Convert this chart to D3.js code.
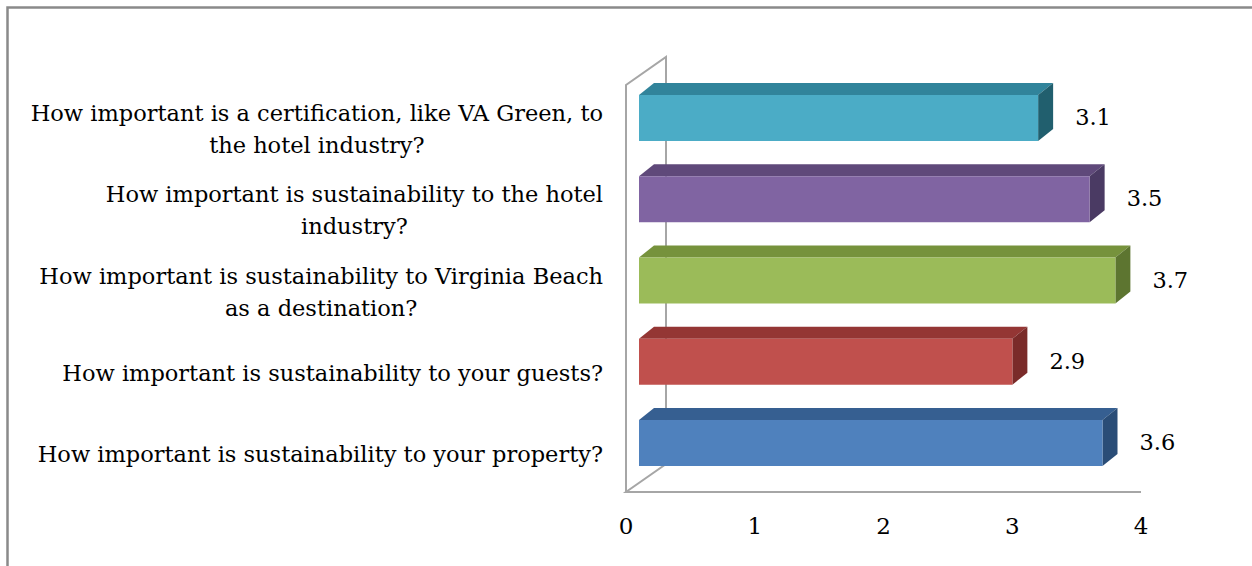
<!DOCTYPE html>
<html>
<head>
<meta http-equiv="Content-Type" content="text/html; charset=utf-8" />
<title>Sustainability importance</title>
<style>
body {
	margin:0;
	padding:0;
	background-color: #fff;
}
text {
	font-family: "DejaVu Serif", serif;
	fill: #000;
}
</style>
</head>
<body>
<svg></svg>
<script src="https://cdn.jsdelivr.net/npm/d3@7/dist/d3.min.js"></script>
<script>

/****************
Data
*****************/
var questions = [
	["How important is a certification, like VA Green, to", "the hotel industry?"],
	["How important is sustainability to the hotel", "industry?"],
	["How important is sustainability to Virginia Beach", "as a destination?"],
	["How important is sustainability to your guests?"],
	["How important is sustainability to your property?"]
];
var scores = [3.1, 3.5, 3.7, 2.9, 3.6];
var ticks = [0, 1, 2, 3, 4];

// front / top / side colours of each bar
var fronts = ["#4bacc6", "#8064a2", "#9bbb59", "#c0504d", "#4f81bd"];
var tops   = ["#31849b", "#5f497a", "#76923c", "#943634", "#365f91"];
var sides  = ["#215f6e", "#4a3a63", "#5d7530", "#7a2b29", "#2a4d77"];

var w = 1252;
var h = 566;

var svg = d3.select("svg")
	.attr("width", w)
	.attr("height", h);

//outer frame (goes past right / bottom edges)
svg.append("rect")
	.attr("x", 7.5).attr("y", 7.5)
	.attr("width", w).attr("height", h)
	.style("fill", "none")
	.style("stroke", "#8a8a8a")
	.style("stroke-width", 2.5);

/****************
Scales
*****************/
var ids = d3.range(questions.length);
var x = d3.scaleLinear().domain([0, 4]).range([626, 1141]);
var y = d3.scaleBand().domain(ids).range([95, 466]).paddingInner(0.434).paddingOuter(0);

//3d offsets
var wall = {dx: 40, dy: -28};  // floor depth
var bar = {dx: 13, dy: 0};     // bar front shift from floor front
var depth = {dx: 15, dy: -12}; // bar thickness

var floorY = 492;
var wallTop = 85;

/****************
Walls
*****************/
var line_color = "#a6a6a6";
var walls = svg.append("g")
	.style("fill", "none")
	.style("stroke", line_color)
	.style("stroke-width", 2);

walls.append("path")
	.attr("d", "M" + x(0) + "," + floorY + "V" + wallTop
		+ "l" + wall.dx + "," + wall.dy
		+ "V" + (floorY + wall.dy)
		+ "L" + x(0) + "," + floorY
		+ "H" + x(4));

/****************
Bars
*****************/
var bars = svg.selectAll(".bar")
	.data(ids)
	.enter()
	.append("g")
	.classed("bar", true);

function x0() { return x(0) + bar.dx; }
function x1(i) { return x(scores[i]) + bar.dx; }

//top face
bars.append("path")
	.style("fill", function(i) { return tops[i]; })
	.attr("d", function(i) {
		return "M" + x0() + "," + y(i)
			+ "l" + depth.dx + "," + depth.dy
			+ "H" + (x1(i) + depth.dx)
			+ "L" + x1(i) + "," + y(i) + "Z";
	});
//right face
bars.append("path")
	.style("fill", function(i) { return sides[i]; })
	.attr("d", function(i) {
		return "M" + x1(i) + "," + y(i)
			+ "l" + depth.dx + "," + depth.dy
			+ "v" + y.bandwidth()
			+ "l" + (-depth.dx) + "," + (-depth.dy) + "Z";
	});
//front face
bars.append("rect")
	.style("fill", function(i) { return fronts[i]; })
	.attr("x", x0())
	.attr("y", function(i) { return y(i); })
	.attr("width", function(i) { return x1(i) - x0(); })
	.attr("height", y.bandwidth());

//value labels
bars.append("text")
	.attr("x", function(i) { return x1(i) + depth.dx + 22; })
	.attr("y", function(i) { return y(i) + y.bandwidth() / 2 - 1; })
	.attr("dominant-baseline", "central")
	.style("font-size", "22.5px")
	.text(function(i) { return scores[i].toFixed(1); });

/****************
Category labels
*****************/
var label_right = 603;
var interligne = 32;
var labels = svg.selectAll(".label")
	.data(ids)
	.enter()
	.append("text")
	.classed("label", true)
	.style("font-size", "22.5px")
	.attr("dominant-baseline", "central")
	.attr("text-anchor", "middle");

labels.each(function(i) {
	var t = d3.select(this);
	var lines = questions[i];
	lines.forEach(function(l, k) {
		t.append("tspan")
			.attr("y", y(i) + y.bandwidth() / 2 + 11 + (k - (lines.length - 1) / 2) * interligne)
			.text(l);
	});
	//center lines inside a right aligned block
	var maxw = d3.max(t.selectAll("tspan").nodes(), function(n) { return n.getComputedTextLength(); });
	t.selectAll("tspan").attr("x", label_right - maxw / 2);
});

/****************
Axis
*****************/
svg.append("g")
	.selectAll("text")
	.data(ticks)
	.enter()
	.append("text")
	.attr("x", function(d) { return x(d); })
	.attr("y", 526)
	.attr("text-anchor", "middle")
	.attr("dominant-baseline", "central")
	.style("font-size", "23px")
	.text(function(d) { return d; });

</script>
</body>
</html>
